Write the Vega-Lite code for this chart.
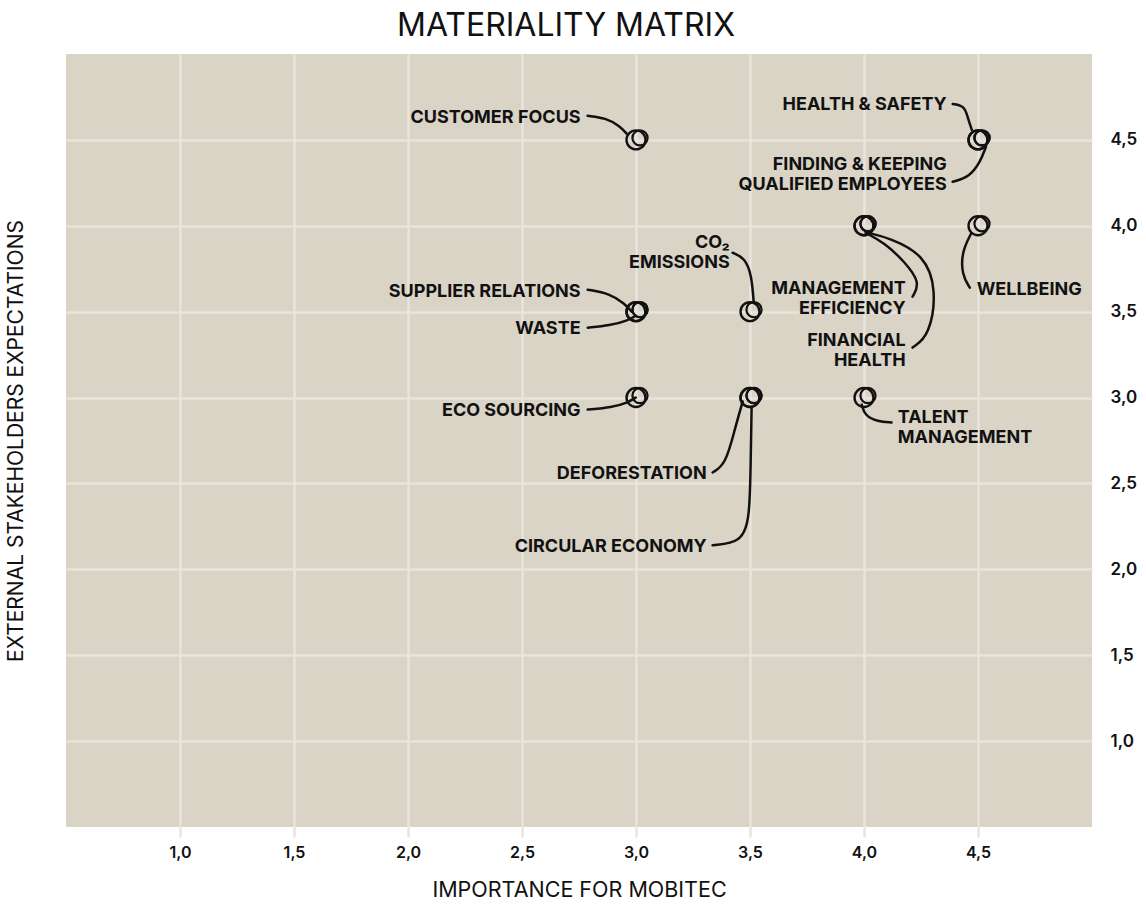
{
  "$schema": "https://vega.github.io/schema/vega-lite/v6.json",
  "width": 1026,
  "height": 773,
  "autosize": {"type": "none"},
  "padding": {"left": 66, "top": 54, "right": 54, "bottom": 79},
  "background": "#ffffff",
  "config": {
    "view": {"fill": "#dad4c7", "stroke": null},
    "font": "Inter"
  },
  "title": {
    "text": "MATERIALITY MATRIX",
    "font": "Inter",
    "fontSize": 32,
    "fontWeight": 400,
    "color": "#111111",
    "offset": 11,
    "dx": -13,
    "anchor": "middle"
  },
  "datasets": {
    "topics": [
      {"topic": "Customer Focus", "importance": 3.0, "expectation": 4.5},
      {"topic": "Health & Safety", "importance": 4.5, "expectation": 4.5},
      {"topic": "Finding & Keeping Qualified Employees", "importance": 4.5, "expectation": 4.5},
      {"topic": "Management Efficiency", "importance": 4.0, "expectation": 4.0},
      {"topic": "Financial Health", "importance": 4.0, "expectation": 4.0},
      {"topic": "Wellbeing", "importance": 4.5, "expectation": 4.0},
      {"topic": "CO2 Emissions", "importance": 3.5, "expectation": 3.5},
      {"topic": "Supplier Relations", "importance": 3.0, "expectation": 3.5},
      {"topic": "Waste", "importance": 3.0, "expectation": 3.5},
      {"topic": "Eco Sourcing", "importance": 3.0, "expectation": 3.0},
      {"topic": "Deforestation", "importance": 3.5, "expectation": 3.0},
      {"topic": "Circular Economy", "importance": 3.5, "expectation": 3.0},
      {"topic": "Talent Management", "importance": 4.0, "expectation": 3.0}
    ],
    "labels": [
      {"topic": "Customer Focus", "text": ["CUSTOMER FOCUS"], "anchor": "right", "lx": 2.757, "ly": 4.640},
      {"topic": "Health & Safety", "text": ["HEALTH & SAFETY"], "anchor": "right", "lx": 4.363, "ly": 4.715},
      {"topic": "Finding & Keeping Qualified Employees", "text": ["FINDING & KEEPING", "QUALIFIED EMPLOYEES"], "anchor": "right", "lx": 4.363, "ly": 4.366},
      {"topic": "CO2 Emissions", "text": ["CO₂", "EMISSIONS"], "anchor": "right", "lx": 3.411, "ly": 3.913},
      {"topic": "Management Efficiency", "text": ["MANAGEMENT", "EFFICIENCY"], "anchor": "right", "lx": 4.183, "ly": 3.645},
      {"topic": "Financial Health", "text": ["FINANCIAL", "HEALTH"], "anchor": "right", "lx": 4.183, "ly": 3.343},
      {"topic": "Supplier Relations", "text": ["SUPPLIER RELATIONS"], "anchor": "right", "lx": 2.757, "ly": 3.628},
      {"topic": "Waste", "text": ["WASTE"], "anchor": "right", "lx": 2.757, "ly": 3.413},
      {"topic": "Eco Sourcing", "text": ["ECO SOURCING"], "anchor": "right", "lx": 2.757, "ly": 2.936},
      {"topic": "Deforestation", "text": ["DEFORESTATION"], "anchor": "right", "lx": 3.310, "ly": 2.564},
      {"topic": "Circular Economy", "text": ["CIRCULAR ECONOMY"], "anchor": "right", "lx": 3.310, "ly": 2.140},
      {"topic": "Wellbeing", "text": ["WELLBEING"], "anchor": "left", "lx": 4.494, "ly": 3.640},
      {"topic": "Talent Management", "text": ["TALENT", "MANAGEMENT"], "anchor": "left", "lx": 4.148, "ly": 2.890}
    ],
    "leaders": [
      {"topic": "Customer Focus", "o": 1, "lx": 2.788, "ly": 4.640},
      {"topic": "Customer Focus", "o": 2, "lx": 2.867, "ly": 4.628},
      {"topic": "Customer Focus", "o": 3, "lx": 2.929, "ly": 4.581},
      {"topic": "Customer Focus", "o": 4, "lx": 2.960, "ly": 4.535},
      {"topic": "Health & Safety", "o": 1, "lx": 4.389, "ly": 4.709},
      {"topic": "Health & Safety", "o": 2, "lx": 4.442, "ly": 4.698},
      {"topic": "Health & Safety", "o": 3, "lx": 4.455, "ly": 4.628},
      {"topic": "Health & Safety", "o": 4, "lx": 4.473, "ly": 4.558},
      {"topic": "Finding & Keeping Qualified Employees", "o": 1, "lx": 4.389, "ly": 4.256},
      {"topic": "Finding & Keeping Qualified Employees", "o": 2, "lx": 4.463, "ly": 4.285},
      {"topic": "Finding & Keeping Qualified Employees", "o": 3, "lx": 4.510, "ly": 4.372},
      {"topic": "Finding & Keeping Qualified Employees", "o": 4, "lx": 4.535, "ly": 4.460},
      {"topic": "CO2 Emissions", "o": 1, "lx": 3.424, "ly": 3.843},
      {"topic": "CO2 Emissions", "o": 2, "lx": 3.477, "ly": 3.814},
      {"topic": "CO2 Emissions", "o": 3, "lx": 3.507, "ly": 3.715},
      {"topic": "CO2 Emissions", "o": 4, "lx": 3.516, "ly": 3.558},
      {"topic": "Management Efficiency", "o": 1, "lx": 4.213, "ly": 3.587},
      {"topic": "Management Efficiency", "o": 2, "lx": 4.248, "ly": 3.669},
      {"topic": "Management Efficiency", "o": 3, "lx": 4.178, "ly": 3.791},
      {"topic": "Management Efficiency", "o": 4, "lx": 4.090, "ly": 3.901},
      {"topic": "Management Efficiency", "o": 5, "lx": 4.007, "ly": 3.959},
      {"topic": "Financial Health", "o": 1, "lx": 4.213, "ly": 3.291},
      {"topic": "Financial Health", "o": 2, "lx": 4.288, "ly": 3.360},
      {"topic": "Financial Health", "o": 3, "lx": 4.319, "ly": 3.628},
      {"topic": "Financial Health", "o": 4, "lx": 4.266, "ly": 3.831},
      {"topic": "Financial Health", "o": 5, "lx": 4.112, "ly": 3.930},
      {"topic": "Financial Health", "o": 6, "lx": 4.016, "ly": 3.959},
      {"topic": "Wellbeing", "o": 1, "lx": 4.464, "ly": 3.640},
      {"topic": "Wellbeing", "o": 2, "lx": 4.429, "ly": 3.715},
      {"topic": "Wellbeing", "o": 3, "lx": 4.429, "ly": 3.849},
      {"topic": "Wellbeing", "o": 4, "lx": 4.470, "ly": 3.955},
      {"topic": "Supplier Relations", "o": 1, "lx": 2.788, "ly": 3.628},
      {"topic": "Supplier Relations", "o": 2, "lx": 2.885, "ly": 3.605},
      {"topic": "Supplier Relations", "o": 3, "lx": 2.950, "ly": 3.547},
      {"topic": "Supplier Relations", "o": 4, "lx": 2.981, "ly": 3.500},
      {"topic": "Waste", "o": 1, "lx": 2.788, "ly": 3.407},
      {"topic": "Waste", "o": 2, "lx": 2.885, "ly": 3.419},
      {"topic": "Waste", "o": 3, "lx": 2.964, "ly": 3.448},
      {"topic": "Waste", "o": 4, "lx": 2.999, "ly": 3.477},
      {"topic": "Eco Sourcing", "o": 1, "lx": 2.788, "ly": 2.930},
      {"topic": "Eco Sourcing", "o": 2, "lx": 2.893, "ly": 2.942},
      {"topic": "Eco Sourcing", "o": 3, "lx": 2.964, "ly": 2.971},
      {"topic": "Eco Sourcing", "o": 4, "lx": 2.999, "ly": 3.000},
      {"topic": "Deforestation", "o": 1, "lx": 3.336, "ly": 2.564},
      {"topic": "Deforestation", "o": 2, "lx": 3.393, "ly": 2.610},
      {"topic": "Deforestation", "o": 3, "lx": 3.433, "ly": 2.814},
      {"topic": "Deforestation", "o": 4, "lx": 3.468, "ly": 2.977},
      {"topic": "Circular Economy", "o": 1, "lx": 3.336, "ly": 2.140},
      {"topic": "Circular Economy", "o": 2, "lx": 3.463, "ly": 2.157},
      {"topic": "Circular Economy", "o": 3, "lx": 3.499, "ly": 2.291},
      {"topic": "Circular Economy", "o": 4, "lx": 3.503, "ly": 2.640},
      {"topic": "Circular Economy", "o": 5, "lx": 3.507, "ly": 2.942},
      {"topic": "Talent Management", "o": 1, "lx": 4.121, "ly": 2.855},
      {"topic": "Talent Management", "o": 2, "lx": 4.060, "ly": 2.860},
      {"topic": "Talent Management", "o": 3, "lx": 4.003, "ly": 2.895},
      {"topic": "Talent Management", "o": 4, "lx": 3.990, "ly": 2.959}
    ]
  },
  "resolve": {"axis": {"y": "independent"}},
  "layer": [
    {
      "data": {"name": "topics"},
      "mark": {"type": "point", "shape": "circle", "filled": false, "stroke": "#111111", "strokeWidth": 2.4, "size": 360, "opacity": 1},
      "encoding": {
        "x": {
          "field": "importance", "type": "quantitative",
          "scale": {"domain": [0.5, 5.0], "nice": false, "zero": false},
          "axis": {
            "orient": "bottom",
            "values": [1, 1.5, 2, 2.5, 3, 3.5, 4, 4.5],
            "labelExpr": "replace(format(datum.value, '.1f'), '.', ',')",
            "grid": true, "gridColor": "#e9e5dc", "gridWidth": 2.5, "gridOpacity": 1,
            "ticks": true, "tickSize": 10, "tickColor": "#e9e5dc", "tickWidth": 2.5,
            "domain": false,
            "labelFont": "Inter", "labelFontSize": 16, "labelFontWeight": 600, "labelColor": "#111111", "labelPadding": 7,
            "title": "IMPORTANCE FOR MOBITEC",
            "titleFont": "Inter", "titleFontSize": 21.5, "titleFontWeight": 400, "titleColor": "#111111", "titlePadding": 19
          }
        },
        "y": {
          "field": "expectation", "type": "quantitative",
          "scale": {"domain": [0.5, 5.0], "nice": false, "zero": false},
          "axis": {
            "orient": "left",
            "labels": false, "ticks": false, "domain": false, "grid": false,
            "title": "EXTERNAL STAKEHOLDERS EXPECTATIONS",
            "titleFont": "Inter", "titleFontSize": 21, "titleFontWeight": 400, "titleColor": "#111111", "titlePadding": 40
          }
        }
      }
    },
    {
      "data": {"name": "topics"},
      "mark": {"type": "point", "shape": "circle", "filled": false, "stroke": "#111111", "strokeWidth": 2.2, "size": 230, "xOffset": 4, "yOffset": -2, "opacity": 1},
      "encoding": {
        "x": {"field": "importance", "type": "quantitative"},
        "y": {
          "field": "expectation", "type": "quantitative",
          "axis": {
            "orient": "right",
            "values": [1, 1.5, 2, 2.5, 3, 3.5, 4, 4.5],
            "labelExpr": "replace(format(datum.value, '.1f'), '.', ',')",
            "grid": true, "gridColor": "#e9e5dc", "gridWidth": 2.5, "gridOpacity": 1,
            "ticks": false, "tickSize": 0, "domain": false,
            "labelFont": "Inter", "labelFontSize": 17, "labelFontWeight": 600, "labelColor": "#111111", "labelPadding": 18,
            "title": null
          }
        }
      }
    },
    {
      "data": {"name": "leaders"},
      "mark": {"type": "line", "interpolate": "basis", "stroke": "#111111", "strokeWidth": 2.5, "strokeCap": "round"},
      "encoding": {
        "x": {"field": "lx", "type": "quantitative"},
        "y": {"field": "ly", "type": "quantitative", "axis": null},
        "detail": {"field": "topic"},
        "order": {"field": "o", "type": "quantitative"}
      }
    },
    {
      "data": {"name": "labels"},
      "transform": [{"filter": "datum.anchor === 'right'"}],
      "mark": {"type": "text", "align": "right", "baseline": "middle", "dy": 2, "font": "Inter", "fontSize": 18, "fontWeight": 700, "color": "#111111", "lineHeight": 20},
      "encoding": {
        "x": {"field": "lx", "type": "quantitative"},
        "y": {"field": "ly", "type": "quantitative", "axis": null},
        "text": {"field": "text"}
      }
    },
    {
      "data": {"name": "labels"},
      "transform": [{"filter": "datum.anchor === 'left'"}],
      "mark": {"type": "text", "align": "left", "baseline": "middle", "dy": 2, "font": "Inter", "fontSize": 18, "fontWeight": 700, "color": "#111111", "lineHeight": 20},
      "encoding": {
        "x": {"field": "lx", "type": "quantitative"},
        "y": {"field": "ly", "type": "quantitative", "axis": null},
        "text": {"field": "text"}
      }
    }
  ]
}
